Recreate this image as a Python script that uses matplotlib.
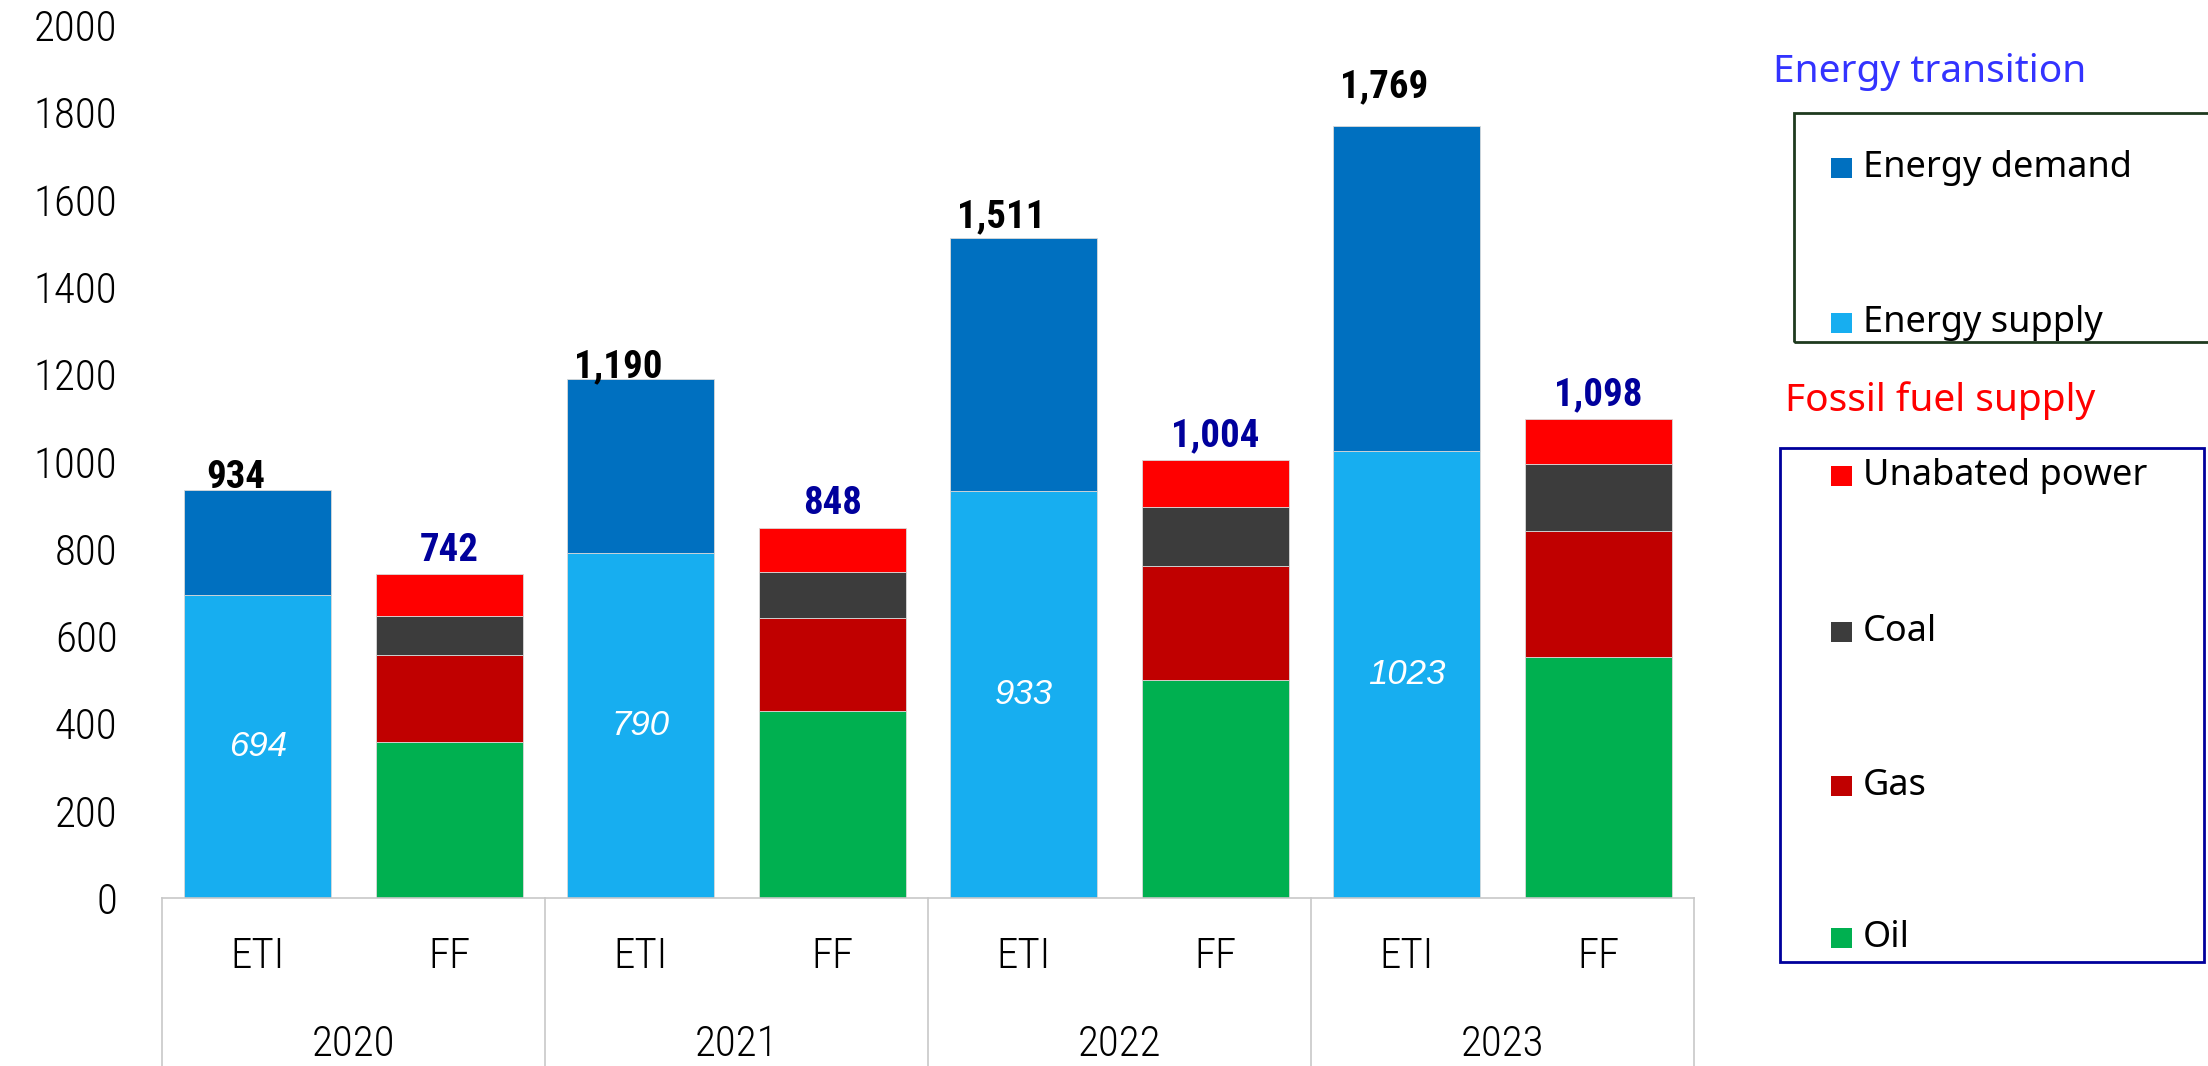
import numpy as np
import matplotlib
matplotlib.use("Agg")
import matplotlib.pyplot as plt
from matplotlib.patches import Rectangle
import matplotlib.transforms as mtransforms
from matplotlib import font_manager

years = ["2020", "2021", "2022", "2023"]
groups = ["ETI", "FF"]

# energy transition investment
energy_supply = [694, 790, 933, 1023]
energy_demand = [240, 400, 578, 746]
eti_total = [934, 1190, 1511, 1769]

# fossil fuel supply
oil = [357, 428, 499, 552]
gas = [199, 213, 261, 288]
coal = [90, 105, 135, 155]
unabated_power = [96, 102, 109, 103]
ff_total = [742, 848, 1004, 1098]

c_demand = "#0070C0"
c_supply = "#17AEF0"
c_power = "#FF0000"
c_coal = "#3C3C3C"
c_gas = "#C00000"
c_oil = "#00B050"

# look for a narrow face, fall back to DejaVu
names = {f.name for f in font_manager.fontManager.ttflist}
narrow_name = next((n for n in ["Liberation Sans Narrow", "DejaVu Sans Condensed",
                                "Roboto Condensed", "Open Sans Condensed"] if n in names),
                   "DejaVu Sans")
narrow = [narrow_name, "DejaVu Sans"]
stretch = "condensed"
tick_fs = 31

W, H = 2208, 1066
fig = plt.figure(figsize=(W / 100, H / 100), dpi=100)
ax = fig.add_axes([162 / W, (H - 898) / H, (1694 - 162) / W, 873 / H])

x_eti = np.arange(4) * 2
x_ff = x_eti + 1
bw = 0.77
ek = dict(edgecolor="#D9D9D9", linewidth=0.6)

ax.bar(x_eti, energy_supply, bw, color=c_supply, **ek)
ax.bar(x_eti, energy_demand, bw, bottom=energy_supply, color=c_demand, **ek)

bottom = np.zeros(4)
for vals, col in [(oil, c_oil), (gas, c_gas), (coal, c_coal), (unabated_power, c_power)]:
    ax.bar(x_ff, vals, bw, bottom=bottom, color=col, **ek)
    bottom += np.array(vals)

ax.set_xlim(-0.5, 7.5)
ax.set_ylim(0, 2000)
ax.set_yticks(np.arange(0, 2001, 200))
ax.set_yticklabels([str(v) for v in range(0, 2001, 200)], fontsize=tick_fs, family=narrow,
                   fontstretch=stretch, fontweight="light")
ax.tick_params(axis="y", length=0, pad=32)
ax.set_xticks([])
for s in ax.spines.values():
    s.set_visible(False)

# labels on bars
eti_dy = [-4, -5, 2, 15]
for i in range(4):
    ax.annotate(f"{eti_total[i]:,}", (x_eti[i], eti_total[i]), xytext=(-16, eti_dy[i]),
                textcoords="offset points", ha="center", va="bottom",
                fontsize=28, fontweight="bold", family=narrow, fontstretch=stretch,
                color="black")
    ax.annotate(f"{ff_total[i]:,}", (x_ff[i], ff_total[i]), xytext=(0, 4),
                textcoords="offset points", ha="center", va="bottom",
                fontsize=28, fontweight="bold", family=narrow, fontstretch=stretch,
                color="#00009C")
    ax.text(x_eti[i], energy_supply[i] / 2, str(energy_supply[i]), ha="center", va="center",
            fontsize=25, style="italic", color="white",
            family=["Liberation Sans", "DejaVu Sans"])

# category axis box
tr = mtransforms.blended_transform_factory(ax.transData, ax.transAxes)
y_bot = -(H - 898) / 873
ax.plot([-0.5, 7.5], [0, 0], transform=tr, color="#C8C8C8", lw=1.2, clip_on=False)
for xb in [-0.5, 1.5, 3.5, 5.5, 7.5]:
    ax.plot([xb, xb], [0, y_bot], transform=tr, color="#C8C8C8", lw=1.2, clip_on=False)
lab = dict(transform=tr, ha="center", va="center", fontsize=tick_fs, family=narrow,
           fontstretch=stretch, fontweight="light")
for i in range(4):
    ax.text(x_eti[i], -59 / 873, groups[0], **lab)
    ax.text(x_ff[i], -59 / 873, groups[1], **lab)
    ax.text(x_eti[i] + 0.5, -146 / 873, years[i], **lab)

# legends, drawn in figure pixels
def px(x, y):
    return x / W, 1 - y / H

lfont = ["Noto Sans", "DejaVu Sans"]

def legend_block(title, tcolor, ty, tx, box, bcolor, entries):
    fig.text(*px(tx, ty), title, color=tcolor, fontsize=28, family=lfont, va="center")
    x0, y0, x1, y1 = box
    fig.patches.append(Rectangle(px(x0, y1), (x1 - x0) / W, (y1 - y0) / H, fill=False,
                                 edgecolor=bcolor, linewidth=2, transform=fig.transFigure))
    for name, col, yc in entries:
        fig.patches.append(Rectangle(px(1831, yc + 10), 21 / W, 20 / H, facecolor=col,
                                     edgecolor="none", transform=fig.transFigure))
        fig.text(*px(1863, yc), name, fontsize=26, family=lfont, va="center")

legend_block("Energy transition", "#3333FF", 72, 1773, (1794, 113, 2216, 342), "#1E3A1E",
             [("Energy demand", c_demand, 168), ("Energy supply", c_supply, 323)])
legend_block("Fossil fuel supply", "#FF0000", 401, 1785, (1780, 448, 2204, 962), "#00009C",
             [("Unabated power", c_power, 476), ("Coal", c_coal, 632),
              ("Gas", c_gas, 786), ("Oil", c_oil, 938)])

fig.savefig("out.png", dpi=100)
